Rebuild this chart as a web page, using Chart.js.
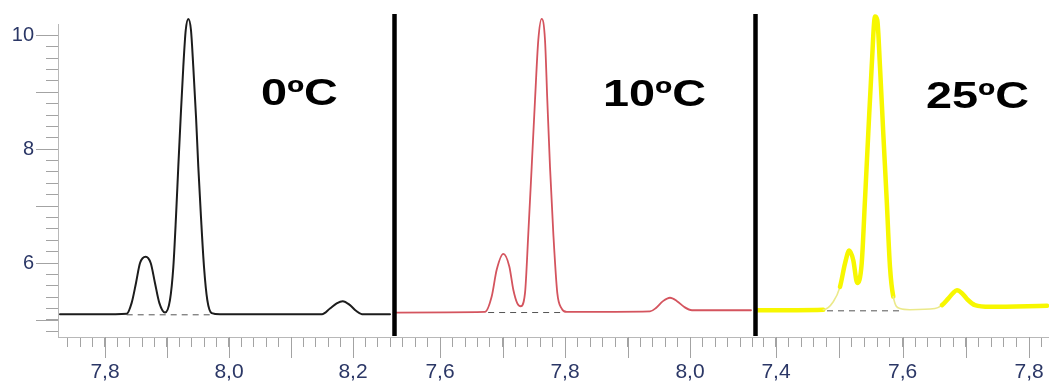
<!DOCTYPE html>
<html>
<head>
<meta charset="utf-8">
<script src="https://cdn.jsdelivr.net/npm/chart.js@4.4.0/dist/chart.umd.min.js"></script>
<style>
  html, body { margin: 0; padding: 0; background: #fff; }
  #wrap { position: relative; width: 1049px; height: 382px; overflow: hidden; }
  #wrap canvas { position: absolute; top: 0; }
</style>
</head>
<body>
<div id="wrap">
  <canvas id="c0" width="392" height="382" style="left:0"></canvas>
  <canvas id="c10" width="361" height="382" style="left:392px"></canvas>
  <canvas id="c25" width="296" height="382" style="left:753px"></canvas>
</div>
<script>
// traces: retention time / signal
const panelLabels = ['0ºC', '10ºC', '25ºC'];

const time0 = [7.7274, 7.7919, 7.835, 7.843, 7.850, 7.8565, 7.8656, 7.8737, 7.8806, 7.8876, 7.8968,
  7.9048, 7.9102, 7.9145, 7.9182, 7.9221, 7.9263, 7.9302, 7.9344, 7.9387, 7.9424, 7.9468, 7.9505,
  7.9548, 7.9597, 7.965, 7.9721, 7.9855, 8.15, 8.1629, 8.1737, 8.1834, 8.1952, 8.2048, 8.2145, 8.2597];
const signal0 = [5.10, 5.10, 5.11, 5.30, 5.65, 6.00, 6.11, 6.00, 5.65, 5.30, 5.13,
  5.35, 5.93, 6.81, 7.69, 8.57, 9.45, 10.09, 10.29, 10.09, 9.45, 8.57, 7.69,
  6.81, 5.93, 5.35, 5.12, 5.10, 5.10, 5.20, 5.29, 5.33, 5.26, 5.16, 5.10, 5.10];
const base0Time = [7.835, 7.974];
const base0Signal = [5.09, 5.09];

const time10 = [7.528, 7.672, 7.6827, 7.6907, 7.7013, 7.7109, 7.7173, 7.7237, 7.7291, 7.736, 7.7413,
  7.7467, 7.752, 7.7573, 7.7627, 7.768, 7.7717, 7.776, 7.7813, 7.7877, 7.7947, 7.8027, 7.936,
  7.9456, 7.9568, 7.968, 7.9792, 7.9904, 8.0032, 8.0976];
const signal10 = [5.13, 5.14, 5.41, 5.88, 6.16, 5.94, 5.53, 5.29, 5.24, 5.47, 6.52,
  7.69, 8.86, 9.92, 10.29, 9.92, 8.86, 7.69, 6.52, 5.47, 5.20, 5.14, 5.15,
  5.21, 5.33, 5.39, 5.33, 5.23, 5.17, 5.17];
const base10Time = [7.677, 7.797];
const base10Signal = [5.13, 5.13];

const time25 = [7.37, 7.4747, 7.4905, 7.5011, 7.509, 7.5158, 7.5221, 7.5284, 7.5354, 7.5406, 7.5458,
  7.5512, 7.5564, 7.56, 7.5643, 7.5695, 7.5749, 7.5801, 7.5853, 7.5959, 7.6117, 7.6512, 7.6623,
  7.6717, 7.6796, 7.6859, 7.6938, 7.7033, 7.7144, 7.7381, 7.8281];
const signal25 = [5.17, 5.18, 5.32, 5.58, 5.99, 6.22, 6.05, 5.65, 5.99, 7.11, 8.28,
  9.45, 10.33, 10.27, 9.45, 8.28, 7.11, 5.93, 5.41, 5.20, 5.18, 5.20, 5.26,
  5.37, 5.47, 5.52, 5.47, 5.35, 5.26, 5.23, 5.25];
const base25Time = [7.4806, 7.6006];
const base25Signal = [5.16, 5.16];

const xTicks0 = [7.8, 8.0, 8.2];
const xTicks10 = [7.6, 7.8, 8.0];
const xTicks25 = [7.4, 7.6, 7.8];
const yTicks = [6, 8, 10];

const FONT = 'Liberation Sans, Arial, sans-serif';
const LABEL_COLOR = '#2b3766';
const TICK_COLOR = '#a3a3a3';

const zip = (xs, ys) => xs.map((x, i) => ({ x: x, y: ys[i] }));
const near = (a, b) => Math.abs(a - b) < 1e-6;

function xScale(min, max, labels) {
  return {
    type: 'linear',
    min: min,
    max: max,
    border: { color: '#b8b8b8' },
    grid: { drawOnChartArea: false, tickLength: 10, tickColor: TICK_COLOR },
    ticks: {
      stepSize: 0.02,
      includeBounds: false,
      autoSkip: false,
      maxRotation: 0,
      padding: 13,
      color: LABEL_COLOR,
      font: { family: FONT, size: 21 },
      callback: v => labels.some(l => near(l, v)) ? v.toFixed(1).replace('.', ',') : ''
    },
    // panels sit edge to edge: no side padding for labels
    afterFit: s => { s.height = 45; s.paddingLeft = 0; s.paddingRight = 0; }
  };
}

function yScale(show) {
  return {
    display: show,
    min: 4.7,
    max: 10.2,
    border: { color: '#b8b8b8' },
    grid: { drawOnChartArea: false, tickLength: 12, tickColor: TICK_COLOR },
    ticks: {
      stepSize: 0.2,
      includeBounds: false,
      autoSkip: false,
      padding: 12,
      color: LABEL_COLOR,
      font: { family: FONT, size: 20 },
      callback: v => yTicks.some(l => near(l, v)) ? String(Math.round(v)) : ''
    },
    afterFit: s => { if (show) s.width = 58; }
  };
}

// long ticks, panel divider and the temperature tag
const marks = {
  id: 'marks',
  afterDraw(chart, args, opts) {
    const ctx = chart.ctx;
    const area = chart.chartArea;
    const xs = chart.scales.x;
    const ys = chart.scales.y;
    ctx.save();
    ctx.strokeStyle = TICK_COLOR;
    ctx.lineWidth = 1;
    xs.ticks.forEach(t => {
      if (near(t.value * 10, Math.round(t.value * 10))) {
        const px = Math.round(xs.getPixelForValue(t.value)) + 0.5;
        ctx.beginPath();
        ctx.moveTo(px, area.bottom);
        ctx.lineTo(px, area.bottom + 21);
        ctx.stroke();
      }
    });
    if (ys.options.display) {
      ys.ticks.forEach(t => {
        if (near(t.value, Math.round(t.value))) {
          const py = Math.round(ys.getPixelForValue(t.value)) + 0.5;
          ctx.beginPath();
          ctx.moveTo(area.left - 22, py);
          ctx.lineTo(area.left, py);
          ctx.stroke();
        }
      });
    }
    if (opts.divider) {
      ctx.strokeStyle = '#000';
      ctx.lineWidth = 4.5;
      ctx.beginPath();
      ctx.moveTo(area.left + 2.5, 14);
      ctx.lineTo(area.left + 2.5, area.bottom - 1);
      ctx.stroke();
    }
    ctx.translate(opts.tagX, opts.tagY);
    ctx.scale(1.3, 1);
    ctx.fillStyle = '#000';
    ctx.font = 'bold 36px ' + FONT;
    ctx.textBaseline = 'alphabetic';
    ctx.textAlign = 'left';
    ctx.fillText(opts.tag, 0, 0);
    ctx.restore();
  }
};

function curve(data, color, width, extra) {
  return Object.assign({
    data: data,
    borderColor: color,
    borderWidth: width,
    pointRadius: 0,
    fill: false,
    clip: false,
    cubicInterpolationMode: 'monotone',
    borderJoinStyle: 'round',
    borderCapStyle: 'round'
  }, extra || {});
}

function dashed(data) {
  return {
    data: data,
    borderColor: '#555',
    borderWidth: 1,
    borderDash: [6, 5],
    pointRadius: 0,
    fill: false
  };
}

function makeChart(id, datasets, x, showY, tag) {
  return new Chart(document.getElementById(id).getContext('2d'), {
    type: 'line',
    data: { datasets: datasets },
    options: {
      responsive: false,
      animation: false,
      devicePixelRatio: 1,
      events: [],
      layout: { padding: { top: 24, left: 0, right: 0, bottom: 0 }, autoPadding: false },
      scales: { x: x, y: yScale(showY) },
      plugins: {
        legend: { display: false },
        tooltip: { enabled: false },
        marks: tag
      }
    },
    plugins: [marks]
  });
}

makeChart('c0', [
  curve(zip(time0, signal0), '#1c1c1c', 2),
  dashed(zip(base0Time, base0Signal))
], xScale(7.7242, 8.2629, xTicks0), true,
  { tag: panelLabels[0], tagX: 261, tagY: 105, divider: false });

makeChart('c10', [
  curve(zip(time10, signal10), '#d4545e', 1.8),
  dashed(zip(base10Time, base10Signal))
], xScale(7.5232, 8.1008, xTicks10), false,
  { tag: panelLabels[1], tagX: 211, tagY: 106, divider: true });

// thinner, paler stretches of the 25ºC trace
const thinSpans = [[7.4747, 7.5011], [7.5853, 7.6623]];
const isThin = c => thinSpans.some(s => c.p0.parsed.x >= s[0] - 1e-9 && c.p1.parsed.x <= s[1] + 1e-9);

makeChart('c25', [
  curve(zip(time25, signal25), '#f7f700', 4.5, {
    segment: {
      borderWidth: c => isThin(c) ? 1.6 : 4.5,
      borderColor: c => isThin(c) ? '#ebe98a' : '#f7f700'
    }
  }),
  dashed(zip(base25Time, base25Signal))
], xScale(7.3637, 7.8313, xTicks25), false,
  { tag: panelLabels[2], tagX: 173, tagY: 108, divider: true });
</script>
</body>
</html>
